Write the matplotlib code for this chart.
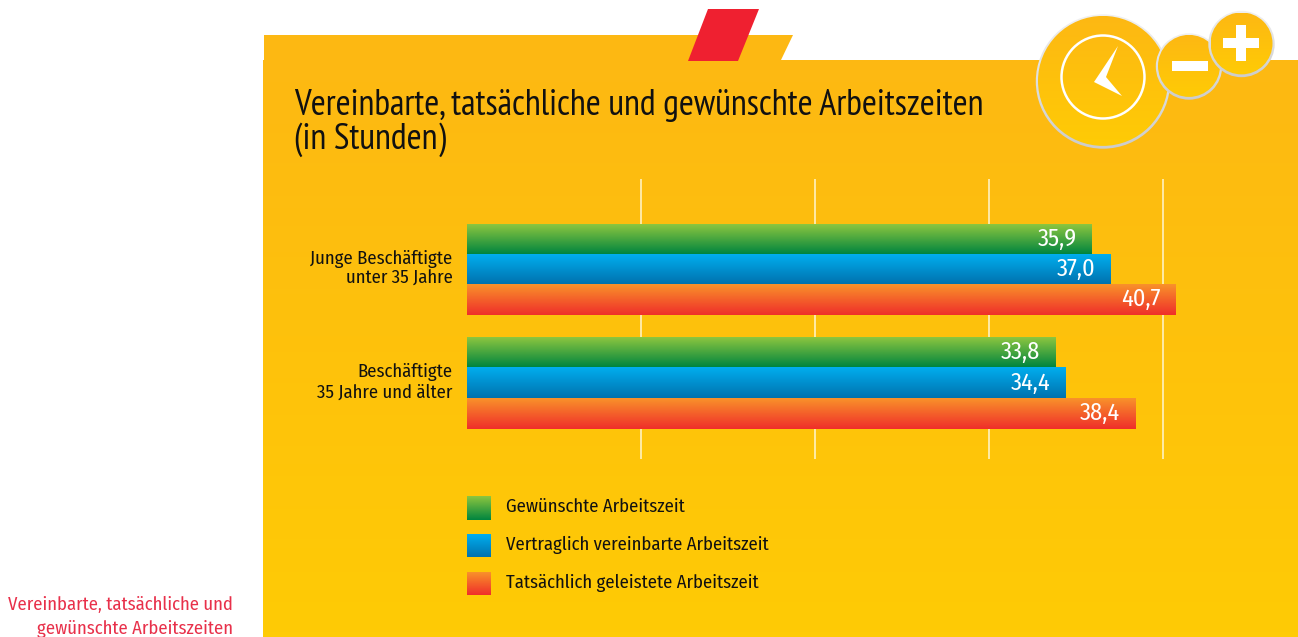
import numpy as np
import matplotlib
matplotlib.use("Agg")
import matplotlib.pyplot as plt
from matplotlib.colors import LinearSegmentedColormap as LSC
from matplotlib.patches import Polygon, Circle, Rectangle
import logging
logging.getLogger("matplotlib.font_manager").setLevel(logging.ERROR)

W, H = 1298, 637
title = "Vereinbarte, tatsächliche und gewünschte Arbeitszeiten\n(in Stunden)"
side_caption = "Vereinbarte, tatsächliche und\ngewünschte Arbeitszeiten"
groups = ["Junge Beschäftigte\nunter 35 Jahre", "Beschäftigte\n35 Jahre und älter"]
series = ["Gewünschte Arbeitszeit", "Vertraglich vereinbarte Arbeitszeit", "Tatsächlich geleistete Arbeitszeit"]
gewuenscht = [35.9, 33.8]
vereinbart = [37.0, 34.4]
tatsaechlich = [40.7, 38.4]
grid_values = [10, 20, 30, 40]
colors = [("#8DC63F", "#00853F"), ("#00AEEF", "#0072AE"), ("#F9922A", "#EF2E2A")]

TITLE_FONT = ["PT Sans Narrow", "Roboto Condensed", "Lato", "DejaVu Sans"]
SMALL_FONT = ["Fira Sans Condensed", "PT Sans Narrow", "Roboto Condensed", "Lato", "DejaVu Sans"]
plt.rcParams["font.family"] = TITLE_FONT
SMALL_SIZE = 13.4

fig = plt.figure(figsize=(W / 100, H / 100), dpi=100, facecolor="white")
bg = fig.add_axes([0, 0, 1, 1])
bg.set_xlim(0, W); bg.set_ylim(H, 0); bg.axis("off")

def vgrad(ax, c0, c1, extent, clip=None, z=1):
    cmap = LSC.from_list("g", [c0, c1])
    im = ax.imshow(np.linspace(0, 1, 128)[:, None], cmap=cmap, extent=extent, aspect="auto",
                   origin="upper", zorder=z, interpolation="bilinear")
    if clip is not None:
        im.set_clip_path(clip)
    return im

# panel
panel = Polygon([(264, 35), (793, 35), (781, 60), (W, 60), (W, H), (263, H), (263, 60), (264, 60)],
                closed=True, fc="none", ec="none", transform=bg.transData)
bg.add_patch(panel)
vgrad(bg, "#FDB813", "#FFCB05", (263, W, H, 35), panel)
bg.add_patch(Polygon([(708, 9), (759, 9), (738, 61), (688, 61)], closed=True, fc="#EF2030", ec="none", zorder=3))

# clock badge and +/- badges
zb = [4]
def badge(cx, cy, r):
    z = zb[0]; zb[0] += 1
    ring = Circle((cx, cy), r + 2.2, fc="none", ec="none", zorder=z)
    bg.add_patch(ring)
    vgrad(bg, "#F1F1F1", "#CCCCCC", (cx - r - 3, cx + r + 3, cy + r + 3, cy - r - 3), ring, z=z)
    c = Circle((cx, cy - 0.6), r, fc="none", ec="none", zorder=z)
    bg.add_patch(c)
    vgrad(bg, "#FDB813", "#FFCB05", (cx - r, cx + r, cy + r, cy - r), c, z=z)

badge(1103, 81.5, 65)
bg.add_patch(Circle((1103, 77), 41.5, fc="none", ec="white", lw=1.8, zorder=zb[0]))
bg.add_patch(Polygon([(1118, 46), (1094, 82), (1122, 96), (1106, 77)], closed=True, fc="white", ec="none", zorder=zb[0]))
badge(1189, 66.5, 31)
bg.add_patch(Rectangle((1172, 61), 36, 10, fc="white", ec="none", zorder=zb[0]))
badge(1241.5, 44, 31)
bg.add_patch(Rectangle((1223, 38), 36, 10, fc="white", ec="none", zorder=zb[0]))
bg.add_patch(Rectangle((1236, 25), 10, 36, fc="white", ec="none", zorder=zb[0]))

# text
TK = "#111111"
bg.text(294, 114.5, title.split("\n")[0], fontsize=26, color=TK, va="baseline", ha="left", zorder=3)
bg.text(294, 149, title.split("\n")[1], fontsize=26, color=TK, va="baseline", ha="left", zorder=3)
l1, l2 = side_caption.split("\n")
bg.text(233, 610, l1, fontsize=SMALL_SIZE, color="#E8304A", ha="right", va="baseline", family=SMALL_FONT)
bg.text(233, 634, l2, fontsize=SMALL_SIZE, color="#E8304A", ha="right", va="baseline", family=SMALL_FONT)

# chart axes: pixel box x 467..1163 -> 0..40, y 179..459
ax = fig.add_axes([467.3 / W, 1 - 459 / H, 696 / W, 280 / H])
ax.patch.set_alpha(0)
ax.set_xlim(0, 40)
ax.set_ylim(459, 179)
for s in ax.spines.values():
    s.set_visible(False)
ax.set_xticks([]); ax.set_yticks([])
for g in grid_values:
    ax.axvline(g, color="#FFF6D0", lw=1.1, zorder=1, clip_on=False, solid_capstyle="butt")

rows = [[(224, 30), (254, 30), (284, 31)], [(337, 30), (367, 31), (398, 31)]]
data = [gewuenscht, vereinbart, tatsaechlich]
for gi in range(2):
    for si in range(3):
        top, h = rows[gi][si]
        v = data[si][gi]
        ax.barh(top + h / 2, v, height=h, color="none", edgecolor="none", zorder=2, clip_on=False)
        im = vgrad(ax, colors[si][0], colors[si][1], (0, v, top + h, top), z=2)
        im.set_clip_on(False)
        ax.text(v - 0.87, top + h / 2 + 7, f"{v:.1f}".replace(".", ","), color="white",
                fontsize=17.5, ha="right", va="baseline", zorder=3, family=SMALL_FONT)
ax.set_xlim(0, 40); ax.set_ylim(459, 179)

for (y1, y2), g in zip([(258, 278), (371, 392)], groups):
    a, b = g.split("\n")
    bg.text(452.5, y1 + 6, a, fontsize=SMALL_SIZE, color=TK, ha="right", va="baseline", zorder=6, family=SMALL_FONT)
    bg.text(452.5, y2 + 6, b, fontsize=SMALL_SIZE, color=TK, ha="right", va="baseline", zorder=6, family=SMALL_FONT)

# legend
for (top, h), s, (c0, c1) in zip([(496, 24), (534, 23), (572, 23)], series, colors):
    vgrad(bg, c0, c1, (467, 491, top + h, top), z=6)
    bg.text(506, top + 16, s, fontsize=SMALL_SIZE, color=TK, ha="left", va="baseline", zorder=6, family=SMALL_FONT)

bg.set_xlim(0, W); bg.set_ylim(H, 0)
fig.savefig("out.png", dpi=100, facecolor="white")
